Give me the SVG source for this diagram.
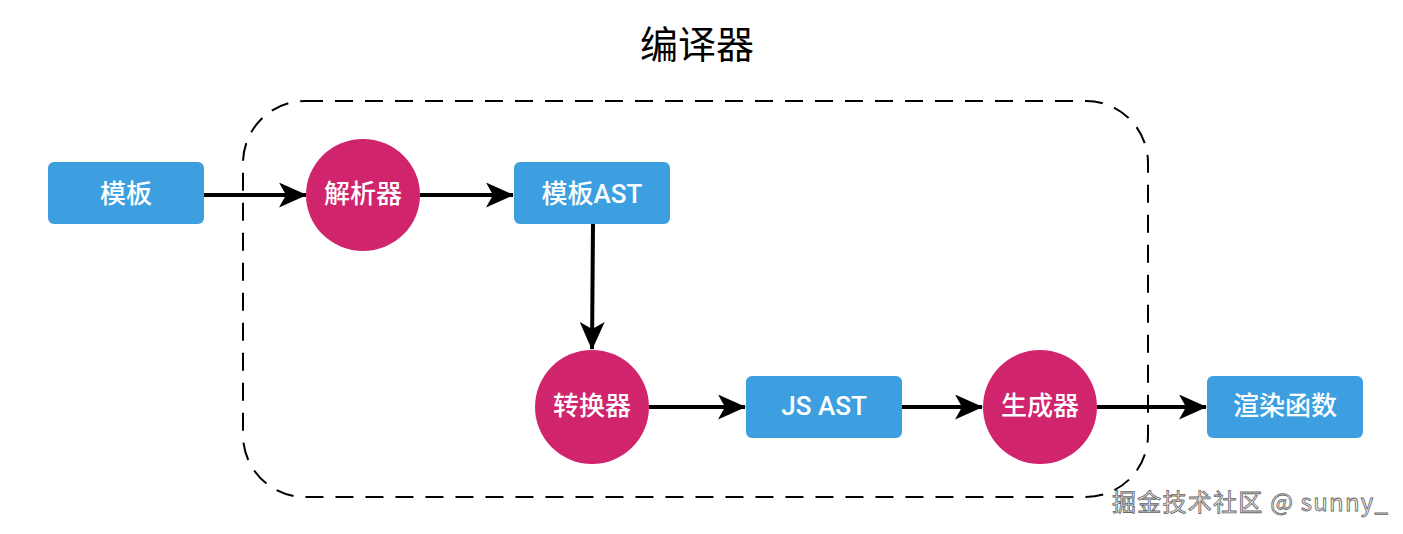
<svg xmlns="http://www.w3.org/2000/svg" width="1403" height="534" viewBox="0 0 1403 534">
<style>
.box{fill:#3d9fe0;}
.circ{fill:#d0246c;}
.lbl{font-family:Roboto,"Noto Sans CJK SC",sans-serif;font-size:26px;font-weight:500;fill:#fff;text-anchor:middle;dominant-baseline:central;}
.edge{stroke:#000;stroke-width:4;fill:none;marker-end:url(#arr);}
</style>
<defs>
<marker id="arr" viewBox="0 0 28 25" refX="27" refY="12.5" markerWidth="28" markerHeight="25" orient="auto" markerUnits="userSpaceOnUse">
<path d="M0,0 L28,12.5 L0,25 L7,12.5 Z" fill="#000"/>
</marker>
</defs>
<rect width="1403" height="534" fill="#fff"/>
<text x="697" y="58" font-family="'Noto Sans CJK SC',sans-serif" font-size="38" text-anchor="middle" fill="#000">编译器</text>
<rect id="compiler" x="243" y="101" width="905" height="396" rx="62" ry="62" fill="none" stroke="#000" stroke-width="2" stroke-dasharray="18 12"/>
<g id="connectors">
<path class="edge" d="M204,195 L306,195"/>
<path class="edge" d="M420,195 L513,195"/>
<path class="edge" d="M593,224 L592,349"/>
<path class="edge" d="M649,407 L745,407"/>
<path class="edge" d="M902,407 L982,407"/>
<path class="edge" d="M1097,407 L1206,407"/>
</g>
<g id="n1"><rect class="box" x="48" y="162" width="156" height="62" rx="6"/><text class="lbl" x="126" y="194">模板</text></g>
<g id="n2"><ellipse class="circ" cx="363" cy="195" rx="57" ry="56"/><text class="lbl" x="363" y="194">解析器</text></g>
<g id="n3"><rect class="box" x="514" y="162" width="156" height="62" rx="6"/><text class="lbl" x="592" y="194">模板AST</text></g>
<g id="n4"><ellipse class="circ" cx="592" cy="407" rx="57" ry="57"/><text class="lbl" x="592" y="406">转换器</text></g>
<g id="n5"><rect class="box" x="746" y="376" width="156" height="62" rx="6"/><text class="lbl" x="824" y="406">JS AST</text></g>
<g id="n6"><ellipse class="circ" cx="1040" cy="407" rx="57" ry="57"/><text class="lbl" x="1040" y="406">生成器</text></g>
<g id="n7"><rect class="box" x="1207" y="376" width="156" height="62" rx="6"/><text class="lbl" x="1285" y="406">渲染函数</text></g>
<text x="1112" y="511" font-family="'Noto Sans CJK SC',sans-serif" font-size="24" textLength="276" fill="#eee" stroke="#666" stroke-width="0.8">掘金技术社区 @ sunny_</text>
</svg>
